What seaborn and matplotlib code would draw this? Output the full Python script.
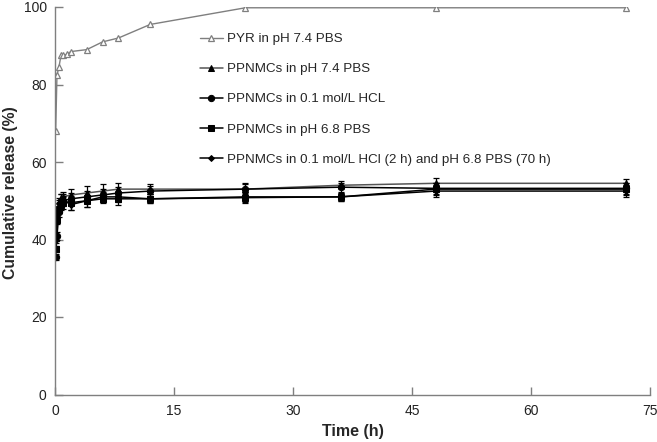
import matplotlib
matplotlib.use("Agg")
import matplotlib.pyplot as plt
import seaborn as sns
import numpy as np
import pandas as pd

sns.set_theme(style="white")
plt.rcParams['font.family'] = ['Liberation Sans', 'DejaVu Sans']

# Data
t_pyr = [0.083, 0.25, 0.5, 0.75, 1, 1.5, 2, 4, 6, 8, 12, 24, 48, 72]
pyr = [68, 82.5, 84.5, 87.5, 87.5, 87.8, 88.5, 89, 91, 92, 95.5, 99.8, 99.8, 99.8]

t_pp = [0.083, 0.25, 0.5, 0.75, 1, 2, 4, 6, 8, 12, 24, 36, 48, 72]
pp74 = [40.5, 46, 49, 50.5, 51, 51.5, 52, 52.5, 53, 53, 53, 54, 54.5, 54.5]
pp74_err = [1.0, 1.2, 1.2, 1.3, 1.3, 1.5, 1.8, 1.8, 1.5, 1.3, 1.5, 1.0, 1.3, 1.2]
pphcl = [35.5, 41, 47, 49, 50, 50.5, 51, 51.5, 52, 52.5, 53, 53.5, 53.2, 53.2]
pphcl_err = [0.8, 1.0, 1.2, 1.3, 1.3, 1.5, 1.5, 1.5, 1.5, 1.2, 1.3, 1.2, 1.5, 1.5]
pp68 = [37.5, 45, 48, 49, 49.5, 49.5, 50, 50.5, 50.5, 50.5, 50.8, 51, 53, 53]
pp68_err = [0.8, 1.0, 1.2, 1.2, 1.5, 1.8, 1.5, 1.2, 1.5, 1.2, 1.3, 1.0, 1.5, 1.5]
ppseq = [40, 47, 49.5, 50.5, 50.5, 49, 50, 51, 51, 50.5, 51, 51, 52.5, 52.5]
ppseq_err = [0.8, 1.0, 1.2, 1.2, 1.3, 1.5, 1.5, 1.3, 1.3, 1.2, 1.3, 1.0, 1.5, 1.5]

labels = ["PYR in pH 7.4 PBS", "PPNMCs in pH 7.4 PBS", "PPNMCs in 0.1 mol/L HCL",
          "PPNMCs in pH 6.8 PBS", "PPNMCs in 0.1 mol/L HCl (2 h) and pH 6.8 PBS (70 h)"]
x_ticks = [0, 15, 30, 45, 60, 75]
y_ticks = [0, 20, 40, 60, 80, 100]

W, H = 657, 442
fig = plt.figure(figsize=(W / 100, H / 100), dpi=100)
ax = fig.add_axes([55 / W, 1 - 394.5 / H, 595 / W, 387.5 / H])

gray = "#7f7f7f"
# PYR
sns.lineplot(x=t_pyr, y=pyr, ax=ax, color=gray, lw=1.0, marker="^", markersize=4.5,
             markerfacecolor="white", markeredgecolor=gray, markeredgewidth=0.9, label=labels[0])

series = [
    (pp74, pp74_err, "^", 4.5, "#555555", labels[1]),
    (pphcl, pphcl_err, "o", 4.5, "black", labels[2]),
    (pp68, pp68_err, "s", 4.5, "black", labels[3]),
    (ppseq, ppseq_err, "D", 3.0, "black", labels[4]),
]
for vals, err, mk, ms, lc, lab in series:
    ax.errorbar(t_pp, vals, yerr=err, fmt="none", ecolor="black", elinewidth=0.9,
                capsize=2.5, capthick=0.9, zorder=2)
    sns.lineplot(x=t_pp, y=vals, ax=ax, color=lc, lw=1.1, marker=mk, markersize=ms,
                 markerfacecolor="black", markeredgecolor="black", label=lab)

ax.set_xlim(0, 75)
ax.set_ylim(0, 100)
ax.set_xticks(x_ticks)
ax.set_yticks(y_ticks)
for s in ["top", "right"]:
    ax.spines[s].set_visible(False)
for s in ["left", "bottom"]:
    ax.spines[s].set_color(gray)
    ax.spines[s].set_linewidth(1.0)
ax.tick_params(axis="both", direction="in", length=6, width=1.0, color=gray,
               labelsize=10, labelcolor="#222222", left=True, bottom=True)
ax.tick_params(axis="x", pad=7)
ax.tick_params(axis="y", pad=6)
ax.set_xlabel("Time (h)", fontsize=11.5, fontweight="bold", labelpad=4)
ax.set_ylabel("Cumulative release (%)", fontsize=11.3, fontweight="bold")
ax.yaxis.set_label_coords(-0.062, 0.52)
ax.grid(False)

leg = ax.legend(loc="upper left", bbox_to_anchor=(200 / W, 1 - 33 / H),
                bbox_transform=fig.transFigure, frameon=False, borderpad=0,
                borderaxespad=0, fontsize=9.6, labelspacing=1.33,
                handlelength=1.7, handletextpad=0.3)

fig.savefig("out.png", dpi=100)
